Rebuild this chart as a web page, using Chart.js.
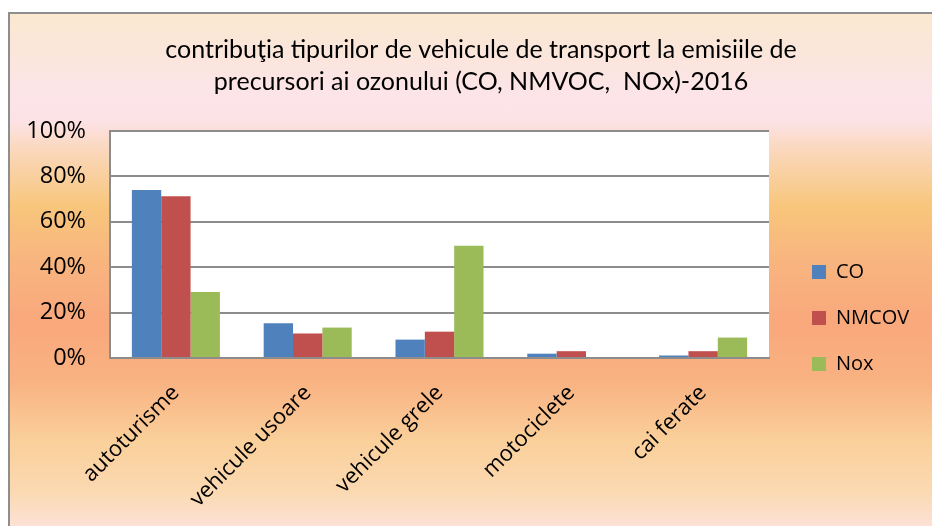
<!DOCTYPE html>
<html>
<head>
<meta charset="utf-8">
<script src="https://cdn.jsdelivr.net/npm/chart.js@4.4.1/dist/chart.umd.min.js"></script>
<style>
  html, body { margin: 0; padding: 0; width: 932px; height: 526px; overflow: hidden; background: #fff; }
  #frame {
    position: absolute; left: 8px; top: 12px; width: 960px; height: 560px;
    border: 2px solid #8e8e8e;
    background: linear-gradient(to bottom,
      #FAE8D0 0px, #FBE5DE 50px, #FCE4EA 85px, #FCE2E4 108px, #FAD7BA 138px,
      #F8C67C 192px, #F8B47F 250px, #F9A87C 308px, #F9B282 368px,
      #FAD09B 428px, #FBD9B2 478px, #FCE2D6 512px);
  }
  #wrap { position: absolute; left: -100px; top: 13px; width: 1200px; height: 610px; }
</style>
</head>
<body>
<div id="frame"></div>
<div id="wrap"><canvas id="c" width="1200" height="610"></canvas></div>
<script>
// Emission shares (%) by vehicle type
const categories = ['autoturisme', 'vehicule usoare', 'vehicule grele', 'motociclete', 'cai ferate'];
const seriesNames = ['CO', 'NMCOV', 'Nox'];
const coValues    = [74.0, 15.3, 8.1, 1.9, 1.1];
const nmcovValues = [71.3, 10.8, 11.6, 3.0, 3.0];
const noxValues   = [29.1, 13.4, 49.4, 0, 9.0];
const yTickValues = [0, 20, 40, 60, 80, 100];
const titleLines = [
  'contribuţia tipurilor de vehicule de transport la emisiile de',
  'precursori ai ozonului (CO, NMVOC,  NOx)-2016'
];
const seriesColors = ['#4F81BD', '#C0504D', '#9BBB59'];

// Layout constants; the canvas starts OFFSET px left of the page edge
const OFFSET = 100;
const CANVAS_W = 1200, CANVAS_H = 610;
const FONT_FAMILY = '"Open Sans", "Noto Sans", sans-serif';
const TITLE_FAMILY = 'Lato, "Liberation Sans", sans-serif';
const LEGEND_FONT = 20, LEGEND_BOX = 14, LEGEND_PAD = 26;
const PLOT_LEFT = 110 + OFFSET, PLOT_RIGHT = 769 + OFFSET, PLOT_BOTTOM = 345;
const LEGEND_ITEM_X = 812 + OFFSET, TITLE_CENTER = 481 + OFFSET;

// Legend box width follows Chart.js' own sizing rule, so measure the labels first
const mctx = document.createElement('canvas').getContext('2d');
mctx.font = LEGEND_FONT + 'px ' + FONT_FAMILY;
const maxLabelW = Math.max(...seriesNames.map(s => mctx.measureText(s).width));
const legendWidth = LEGEND_PAD + LEGEND_BOX + LEGEND_FONT / 2 + maxLabelW + 10;
const legendLeft = LEGEND_ITEM_X - LEGEND_PAD;
const legendRight = legendLeft + legendWidth;
const regionRight = 2 * TITLE_CENTER;          // title spans 0..regionRight
const padRight = CANVAS_W - regionRight;
const innerGap = legendLeft - PLOT_RIGHT;       // between plot and legend
const outerGap = Math.max(regionRight - legendRight, 0); // right of the legend

const plotBackground = {
  id: 'plotBackground',
  beforeDraw(chart) {
    const { ctx, chartArea: a } = chart;
    ctx.save();
    ctx.fillStyle = '#ffffff';
    ctx.fillRect(a.left, a.top, a.right - a.left, a.bottom - a.top);
    ctx.restore();
  }
};

const spacerAxis = (width, weight) => ({
  type: 'linear',
  position: 'right',
  weight: weight,
  display: true,
  grid: { display: false, drawTicks: false },
  border: { display: false },
  ticks: { display: false },
  afterFit(scale) { scale.width = width; }
});

const values = [coValues, nmcovValues, noxValues];

new Chart(document.getElementById('c'), {
  type: 'bar',
  data: {
    labels: categories,
    datasets: seriesNames.map((name, i) => ({
      label: name,
      data: values[i],
      backgroundColor: seriesColors[i],
      borderWidth: 0,
      categoryPercentage: 0.668,
      barPercentage: 1.0
    }))
  },
  options: {
    responsive: false,
    animation: false,
    devicePixelRatio: 1,
    layout: { padding: { left: 0, right: padRight, top: 0, bottom: 0 } },
    plugins: {
      title: {
        display: true,
        text: titleLines,
        color: '#000',
        font: { family: TITLE_FAMILY, size: 25, weight: 'normal', lineHeight: 32 / 25 },
        padding: { top: 21, bottom: 33 }
      },
      legend: {
        position: 'right',
        align: 'center',
        labels: {
          color: '#000',
          font: { family: FONT_FAMILY, size: LEGEND_FONT },
          boxWidth: LEGEND_BOX,
          boxHeight: LEGEND_BOX,
          padding: LEGEND_PAD
        }
      },
      tooltip: { enabled: false }
    },
    scales: {
      x: {
        grid: { display: false, drawTicks: false },
        border: { display: true, color: '#8c8c8c', width: 2 },
        ticks: {
          color: '#000',
          font: { family: FONT_FAMILY, size: 22 },
          minRotation: 45, maxRotation: 45,
          autoSkip: false,
          padding: 22
        },
        afterFit(scale) { scale.height = CANVAS_H - PLOT_BOTTOM; }
      },
      y: {
        min: 0, max: 100,
        grid: { color: '#8c8c8c', lineWidth: 2, drawTicks: false },
        border: { display: true, color: '#8c8c8c', width: 2 },
        afterBuildTicks(scale) { scale.ticks = yTickValues.map(v => ({ value: v })); },
        ticks: {
          color: '#000',
          font: { family: FONT_FAMILY, size: 23.5 },
          padding: 24,
          callback: v => v + '%'
        },
        afterFit(scale) { scale.width = PLOT_LEFT; }
      },
      gapInner: spacerAxis(innerGap, 0),
      gapOuter: spacerAxis(outerGap, 2000)
    }
  },
  plugins: [plotBackground]
});
</script>
</body>
</html>
